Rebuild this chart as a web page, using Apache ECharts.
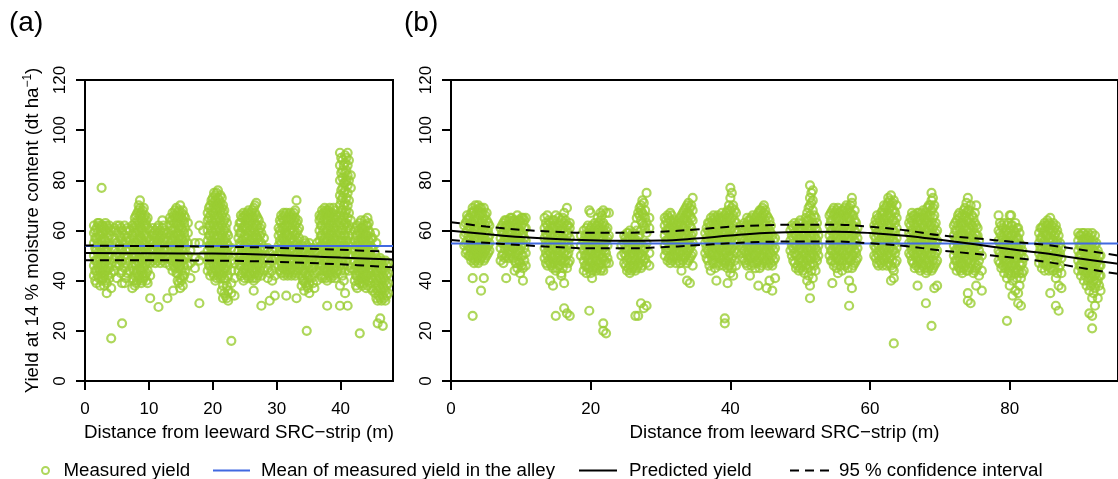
<!DOCTYPE html>
<html>
<head>
<meta charset="utf-8">
<script src="https://cdn.jsdelivr.net/npm/echarts@6.0.0/dist/echarts.min.js"></script>
<style>
  html, body { margin: 0; padding: 0; background: #fff; }
  #chart { width: 1118px; height: 479px; }
</style>
</head>
<body>
<div id="chart"></div>
<script>
// measured yield, one entry per distance: [distance (m), [yields at that distance]]
const measuredA = [
  [1.4, [42, 46, 50, 55, 59, 62]], [1.6, [40, 44, 48, 53, 57, 60]],
  [1.8, [39, 44, 48, 52, 57, 61]], [2.0, [42, 46, 51, 55, 59, 63]],
  [2.2, [41, 45, 49, 54, 58, 62, 63]], [2.4, [38, 44, 49, 53, 58, 61]],
  [2.6, [40, 43, 47, 51, 56, 60, 62, 77]], [2.8, [41, 45, 50, 54, 59, 62]],
  [3.0, [38, 42, 46, 50, 53, 57, 61]], [3.2, [40, 44, 48, 52, 56, 60, 63]],
  [3.4, [35, 39, 44, 48, 52, 55, 59, 62]], [3.6, [42, 46, 50, 53, 57, 61]],
  [3.8, [41, 45, 50, 54, 58, 62]],
  [4.1, [17, 37, 43, 47, 60]],
  [4.6, [44, 49, 53, 57, 61]], [4.8, [46, 50, 55, 60]],
  [5.0, [41, 47, 51, 55, 59, 62]],
  [5.4, [46, 50, 54, 58, 62]], [5.6, [43, 48, 53, 57, 61]],
  [5.8, [23, 39, 44, 48, 52, 56, 60]],
  [6.2, [39, 45, 50, 55, 58, 62]], [6.4, [41, 47, 52, 56, 60]],
  [6.6, [43, 49, 53, 57, 61]],
  [7.0, [44, 48, 52, 56, 60]],
  [7.4, [37, 41, 46, 50, 54, 58, 62]], [7.6, [40, 44, 49, 53, 57, 61]],
  [7.8, [38, 42, 47, 51, 55, 59, 63, 65]], [8.0, [39, 43, 46, 50, 55, 59, 62, 66]],
  [8.2, [40, 44, 48, 53, 57, 61, 64, 67]], [8.4, [42, 47, 51, 56, 60, 63, 68, 70]],
  [8.6, [41, 45, 49, 54, 58, 62, 66, 69, 72]], [8.8, [39, 44, 48, 52, 57, 61, 65, 67]],
  [9.0, [40, 43, 47, 51, 56, 60, 64, 68]], [9.2, [41, 45, 49, 53, 58, 62, 65, 69]],
  [9.4, [42, 46, 50, 55, 59, 63, 66]], [9.6, [40, 43, 47, 51, 54, 58, 62, 64]],
  [9.8, [39, 44, 48, 53, 57, 61, 65]],
  [10.2, [33, 42, 47, 52, 56, 60]],
  [10.6, [48, 52, 55, 58, 61]], [10.8, [49, 53, 56, 59]],
  [11.0, [47, 50, 54, 57, 60]], [11.3, [48, 51, 55, 58, 61]],
  [11.5, [29.5, 49, 53, 56, 59, 62]], [11.8, [47, 50, 54, 57, 60]],
  [12.1, [48, 51, 55, 58, 61, 64]], [12.3, [49, 52, 56, 59, 62]],
  [12.6, [47, 50, 53, 57, 60]],
  [12.9, [33, 49, 52, 56, 59]],
  [13.8, [36]],
  [13.3, [46, 50, 54, 58, 62, 65]], [13.5, [48, 52, 56, 60, 64]],
  [13.7, [44, 48, 52, 56, 60, 64, 67]], [13.9, [46, 50, 54, 58, 63, 66]],
  [14.1, [45, 49, 53, 57, 61, 65, 68]], [14.3, [43, 47, 51, 55, 59, 63, 66, 69]],
  [14.5, [40, 43, 47, 51, 55, 59, 63, 67]], [14.7, [39, 45, 49, 53, 57, 61, 65, 68]],
  [14.9, [37, 41, 46, 50, 54, 58, 62, 66, 70]], [15.1, [40, 44, 48, 53, 57, 61, 65, 67]],
  [15.3, [38, 42, 48, 52, 56, 60, 64, 68]], [15.5, [42, 46, 50, 55, 59, 63, 66]],
  [15.7, [44, 49, 53, 57, 61, 65]],
  [16.1, [46, 50, 55, 59, 63]],
  [16.5, [41, 47, 52]],
  [17.2, [45, 49, 55]],
  [17.9, [31, 48, 55, 62]],
  [18.5, [50, 60]],
  [19.2, [44, 48, 52, 56, 60, 64, 67]], [19.4, [46, 50, 54, 58, 62, 65, 69]],
  [19.6, [42, 46, 50, 54, 58, 62, 66, 70]], [19.8, [44, 48, 52, 56, 60, 64, 68, 72]],
  [20.0, [43, 47, 51, 55, 59, 63, 67, 71, 73]], [20.2, [42, 46, 50, 54, 58, 62, 66, 70, 75]],
  [20.4, [40, 45, 49, 53, 57, 61, 65, 69, 72, 74]], [20.6, [41, 44, 47, 51, 55, 60, 64, 68, 71, 75]],
  [20.8, [42, 46, 50, 54, 58, 62, 66, 70, 73, 76]], [21.0, [43, 45, 49, 53, 57, 61, 65, 69, 72]],
  [21.2, [41, 44, 48, 52, 56, 60, 64, 68, 71, 74]], [21.4, [36, 42, 46, 50, 54, 58, 62, 66, 69, 73]],
  [21.6, [33, 38, 43, 47, 51, 55, 59, 63, 67, 70]], [21.8, [35, 41, 45, 48, 52, 56, 60, 64, 68]],
  [22.0, [34, 40, 45, 49, 53, 57, 61, 65]], [22.2, [33, 38, 44, 47, 51, 55, 59, 63]],
  [22.4, [32, 36, 42, 46, 50, 54, 58]],
  [22.9, [16, 35, 39, 44, 48, 53]],
  [23.4, [34, 41, 47, 52]],
  [24.0, [44, 48, 52, 57, 61]], [24.2, [46, 50, 55, 59, 63]],
  [24.4, [42, 46, 50, 54, 59, 63, 66]], [24.6, [43, 48, 52, 56, 61, 65]],
  [24.8, [40, 44, 48, 53, 57, 61, 65, 67]], [25.0, [41, 45, 50, 54, 58, 62, 66]],
  [25.2, [43, 47, 51, 55, 60, 64, 66]], [25.4, [42, 46, 48, 52, 57, 61, 65, 67]],
  [25.6, [41, 45, 49, 53, 58, 62, 65, 68]], [25.8, [43, 47, 51, 56, 60, 64, 66]],
  [26.0, [42, 46, 50, 55, 59, 63, 67]], [26.2, [41, 45, 49, 53, 57, 61, 65, 68]],
  [26.4, [36, 40, 44, 48, 52, 57, 61, 65, 69]], [26.6, [43, 47, 51, 55, 59, 63, 67, 70]],
  [26.8, [41, 45, 49, 54, 58, 62, 66, 71]], [27.0, [42, 46, 50, 53, 57, 62, 65]],
  [27.2, [43, 47, 51, 56, 60, 64]], [27.4, [44, 48, 53, 58, 61]],
  [27.6, [30, 42, 46, 50, 55, 59, 62]],
  [28.0, [44, 48, 53, 57]],
  [28.6, [41, 45, 49, 53]],
  [28.9, [32, 43, 47, 51]],
  [29.3, [40, 44, 48, 52]],
  [29.7, [34, 42, 46, 50]],
  [30.3, [46, 50, 54, 58, 61]], [30.5, [44, 48, 52, 56, 60, 64]],
  [30.7, [43, 47, 51, 55, 59, 63, 66]], [30.9, [45, 49, 53, 57, 61, 65]],
  [31.1, [42, 45, 49, 53, 57, 61, 64, 67]], [31.3, [43, 47, 51, 55, 59, 62, 66]],
  [31.5, [34, 44, 48, 52, 56, 60, 64, 67]], [31.7, [42, 46, 50, 54, 58, 62, 65]],
  [31.9, [43, 46, 50, 54, 58, 62, 66]], [32.1, [44, 48, 52, 56, 60, 64, 67]],
  [32.3, [42, 45, 49, 53, 57, 61, 65]], [32.5, [43, 47, 51, 55, 59, 63, 66]],
  [32.7, [44, 48, 52, 56, 60, 64, 67]], [32.9, [42, 46, 50, 54, 58, 62, 65, 68]],
  [33.1, [33, 43, 47, 51, 55, 59, 63, 72]], [33.3, [44, 48, 52, 56, 60, 64]],
  [33.5, [45, 49, 53, 57, 61]],
  [33.9, [38, 42, 46, 50, 54]], [34.1, [40, 44, 48, 52]],
  [34.3, [36, 40, 44, 48, 52, 56]], [34.5, [39, 43, 47, 51, 55]],
  [34.7, [20, 38, 42, 46, 50, 54]], [34.9, [37, 41, 45, 49, 53]],
  [35.1, [35, 39, 43, 47, 51, 55]],
  [35.5, [41, 45, 49, 53]], [35.7, [39, 45, 49, 53]],
  [35.9, [37, 43, 47, 51]],
  [36.3, [40, 44, 48, 52, 55]],
  [36.7, [44, 48, 52, 56, 60, 64, 66]], [36.9, [42, 46, 50, 54, 58, 62, 65]],
  [37.1, [41, 46, 50, 54, 58, 62, 66, 68]], [37.3, [44, 48, 52, 56, 60, 64, 67]],
  [37.5, [42, 45, 49, 53, 57, 61, 65, 69]], [37.7, [41, 47, 51, 55, 59, 63, 67, 68]],
  [37.9, [30, 40, 44, 48, 52, 56, 60, 64, 67]], [38.1, [43, 45, 49, 53, 57, 61, 65, 68]],
  [38.3, [42, 46, 50, 54, 58, 62, 66, 69]], [38.5, [41, 44, 48, 52, 56, 60, 64, 67]],
  [38.7, [43, 47, 51, 55, 59, 63, 67]], [38.9, [42, 45, 49, 53, 57, 61, 65, 69]],
  [39.1, [41, 45, 49, 53, 57, 61, 65, 68]], [39.3, [43, 47, 51, 55, 59, 63, 66]],
  [39.5, [44, 48, 52, 56, 60, 64]],
  [39.9, [30, 38, 46, 50, 54, 58, 62, 66, 70, 74, 80, 86, 91]],
  [40.1, [44, 48, 52, 56, 60, 64, 68, 72, 76, 83, 89]],
  [40.3, [42, 48, 52, 56, 60, 64, 68, 73, 77, 81, 84, 88]],
  [40.5, [40, 46, 50, 54, 58, 62, 66, 70, 75, 79, 86]],
  [40.7, [35, 44, 50, 54, 58, 63, 67, 71, 76, 79, 83, 87, 90]],
  [40.9, [48, 52, 56, 60, 63, 68, 73, 80, 84, 89]],
  [41.1, [30, 46, 52, 56, 61, 65, 70, 75, 78, 82, 86, 91]],
  [41.3, [44, 50, 54, 58, 62, 67, 72, 80, 88]],
  [41.6, [45, 50, 55, 60, 64, 77, 82]],
  [42.2, [40, 44, 48, 52, 56, 60]], [42.4, [38, 42, 46, 50, 54, 58, 61]],
  [42.6, [37, 42, 46, 50, 54, 58, 62]], [42.8, [40, 44, 48, 52, 56, 60]],
  [43.0, [19, 39, 43, 47, 51, 55, 59, 63]], [43.2, [41, 45, 49, 53, 57, 61, 64]],
  [43.4, [38, 41, 45, 49, 53, 57, 61]], [43.6, [39, 43, 47, 51, 55, 59, 62]],
  [43.8, [40, 44, 48, 52, 56, 60, 64]], [44.0, [37, 42, 46, 50, 54, 58, 62]],
  [44.2, [38, 42, 46, 50, 54, 58, 62, 65]], [44.4, [40, 44, 48, 52, 56, 60, 63]],
  [44.6, [39, 43, 47, 51, 55, 59]], [44.8, [37, 41, 45, 49, 53, 57]],
  [45.0, [36, 41, 45, 49, 53, 57]],
  [45.4, [35, 39, 43, 47, 51, 59]], [45.6, [33, 37, 41, 45, 49, 55]],
  [45.8, [23, 32, 36, 40, 44, 48]], [46.0, [34, 38, 42, 46]],
  [46.2, [25, 33, 37, 41, 45, 49]], [46.4, [32, 36, 40, 44, 48]],
  [46.6, [22, 34, 38, 42, 46]], [46.8, [33, 37, 41, 45]],
  [47.0, [32, 36, 40, 44, 48]], [47.2, [34, 38, 42, 46]],
  [47.4, [35, 39, 43, 47]]
];

const measuredB = [
  [1.9, [54, 58, 62]], [2.1, [51, 55, 59, 63]],
  [2.3, [52, 56, 60, 64, 66]], [2.5, [50, 54, 58, 62, 65]],
  [2.7, [50, 53, 57, 61, 65]], [2.9, [48, 51, 55, 59, 63, 67]],
  [3.1, [26, 41, 49, 52, 55, 59, 63, 67, 69]], [3.3, [47, 50, 53, 57, 61, 64, 68]],
  [3.5, [48, 51, 54, 58, 62, 66, 70]], [3.7, [49, 52, 56, 60, 64, 68]],
  [3.9, [47, 50, 53, 56, 60, 64, 68, 70]], [4.1, [48, 51, 54, 58, 62, 66, 69]],
  [4.3, [36, 49, 52, 55, 59, 63, 67, 69]], [4.5, [50, 53, 56, 60, 64, 67]],
  [4.7, [41, 48, 51, 54, 57, 61, 65, 69]], [4.9, [49, 52, 55, 59, 62, 66]],
  [5.1, [50, 53, 56, 60, 64, 67]], [5.3, [51, 54, 57, 60, 63]],
  [5.5, [52, 55, 58, 62]],
  [7.1, [48, 53, 57, 61]], [7.3, [50, 55, 59, 62]],
  [7.5, [47, 51, 55, 59, 63]], [7.7, [49, 53, 57, 61, 64]],
  [7.9, [41, 50, 54, 58, 62, 64]], [8.1, [51, 55, 59, 62]],
  [8.3, [49, 52, 56, 60, 64]], [8.5, [50, 54, 58, 62, 65]],
  [8.7, [51, 55, 59, 63, 65]], [8.9, [49, 53, 57, 61, 64]],
  [9.1, [44, 48, 53, 57, 61, 64]], [9.3, [47, 51, 55, 59, 63]],
  [9.5, [45, 50, 54, 58, 62, 66]], [9.7, [48, 52, 56, 60, 64]],
  [9.9, [43, 47, 52, 56, 60, 64]], [10.1, [46, 50, 54, 58, 62, 65]],
  [10.3, [40, 45, 50, 55, 59, 63, 65]], [10.5, [48, 53, 57, 61, 64]],
  [10.7, [46, 51, 56, 61, 65]],
  [13.4, [49, 53, 57, 61, 65]], [13.6, [47, 51, 55, 59, 63]],
  [13.8, [46, 50, 54, 58, 62, 66]], [14.0, [48, 52, 56, 60, 64]],
  [14.2, [40, 47, 51, 55, 59, 63]], [14.4, [46, 50, 54, 58, 62]],
  [14.6, [38, 45, 49, 53, 57, 61, 64]], [14.8, [47, 50, 54, 58, 62, 64]],
  [15.0, [26, 44, 48, 52, 56, 60, 66]], [15.2, [45, 49, 53, 57, 61]],
  [15.4, [46, 50, 54, 58, 62, 65]], [15.6, [48, 52, 56, 60, 63]],
  [15.8, [42, 43, 48, 52, 56, 60, 64]], [16.0, [45, 49, 53, 57, 61, 65]],
  [16.2, [29, 39, 47, 51, 55, 59, 63, 67]], [16.4, [48, 52, 56, 60, 64]],
  [16.6, [27, 45, 50, 54, 58, 62, 69]], [16.8, [47, 51, 55, 59, 62]],
  [17.0, [26, 48, 53, 57, 61, 63]],
  [18.6, [50, 54, 58]],
  [19.0, [44, 48, 52, 56, 60]], [19.2, [46, 50, 54, 58]],
  [19.4, [43, 46, 50, 54, 58, 61]], [19.6, [45, 48, 52, 56, 59, 62]],
  [19.8, [28, 45, 49, 53, 57, 60, 68]], [20.0, [43, 47, 51, 55, 58, 61, 67]],
  [20.2, [41, 44, 48, 52, 56, 59, 62]], [20.4, [45, 49, 53, 56, 60]],
  [20.6, [46, 50, 54, 57, 61, 63]], [20.8, [44, 48, 51, 55, 58, 62]],
  [21.0, [45, 48, 52, 55, 59, 62, 65]], [21.2, [46, 50, 53, 57, 60, 63]],
  [21.4, [44, 47, 51, 54, 58, 61, 64, 67]], [21.6, [45, 49, 52, 56, 59, 62, 66]],
  [21.8, [20, 23, 44, 49, 53, 57, 60, 63, 68]], [22.0, [48, 52, 55, 59, 62]],
  [22.2, [19, 47, 51, 56, 60, 67]], [22.4, [49, 54, 57, 61]],
  [22.6, [47, 58, 67]],
  [24.4, [50, 54]],
  [24.8, [47, 51, 55, 58]], [25.0, [46, 50, 53, 57]],
  [25.2, [44, 48, 52, 56, 59]], [25.4, [45, 49, 53, 56, 59]],
  [25.6, [43, 46, 50, 54, 57, 60]], [25.8, [44, 48, 51, 55, 58]],
  [26.0, [45, 49, 53, 56, 59]], [26.2, [46, 50, 54, 57]],
  [26.4, [26, 44, 48, 52, 55, 62]], [26.6, [45, 49, 53, 56, 60, 65]],
  [26.8, [26, 46, 50, 54, 58, 67]], [27.0, [47, 51, 55, 58, 66, 69]],
  [27.2, [31, 45, 49, 53, 60, 64, 68, 70]], [27.4, [46, 50, 54, 63, 67, 72]],
  [27.6, [29, 48, 52, 62, 66, 71]], [27.8, [49, 53, 61, 65, 68]],
  [28.0, [30, 47, 55, 59, 63, 75]],
  [28.4, [46, 51, 61, 65]],
  [30.6, [50, 54, 58, 62, 65]], [30.8, [52, 56, 60, 64]],
  [31.0, [48, 52, 56, 60, 63, 66]], [31.2, [49, 53, 57, 61, 65]],
  [31.4, [47, 50, 54, 58, 61, 64, 67]], [31.6, [48, 52, 56, 59, 62, 66]],
  [31.8, [49, 53, 57, 60, 63]], [32.0, [50, 54, 58, 61, 64]],
  [32.2, [47, 51, 55, 59, 62]], [32.4, [49, 53, 57, 60, 63]],
  [32.6, [48, 52, 56, 60, 64]], [32.8, [47, 51, 55, 59, 63, 65]],
  [33.0, [44, 50, 54, 58, 62, 66]], [33.2, [48, 52, 56, 60, 64, 67]],
  [33.4, [49, 53, 57, 61, 65, 68]], [33.6, [50, 54, 58, 62, 66, 69]],
  [33.8, [40, 47, 51, 55, 60, 64, 67, 70]], [34.0, [48, 52, 56, 59, 63, 67, 71]],
  [34.2, [39, 49, 53, 57, 62, 66, 69]], [34.4, [50, 54, 58, 61, 65, 70]],
  [34.6, [46, 51, 55, 59, 64, 68, 73]],
  [36.4, [51, 55, 59]], [36.6, [49, 53, 57, 61]],
  [36.8, [48, 52, 56, 60, 63]], [37.0, [46, 51, 55, 59, 63]],
  [37.2, [44, 50, 54, 58, 62, 65]], [37.4, [48, 52, 56, 60, 64]],
  [37.6, [47, 51, 55, 59, 63, 66]], [37.8, [45, 50, 54, 58, 62, 65]],
  [38.0, [40, 49, 53, 57, 61, 64]], [38.2, [47, 51, 55, 59, 63, 66]],
  [38.4, [46, 50, 54, 58, 62, 65]], [38.6, [49, 53, 57, 61, 65]],
  [38.8, [48, 52, 56, 60, 64, 67]], [39.0, [46, 50, 54, 58, 62, 65]],
  [39.2, [23, 25, 47, 51, 55, 59, 63, 66]], [39.4, [48, 52, 56, 60, 64, 67]],
  [39.6, [39, 45, 49, 53, 57, 61, 65, 68]], [39.8, [46, 50, 54, 58, 62, 66, 70]],
  [40.0, [43, 47, 52, 56, 60, 64, 68, 73, 77]], [40.2, [45, 49, 53, 57, 61, 65, 69, 75]],
  [40.4, [42, 50, 54, 58, 62, 66, 70]], [40.6, [48, 52, 56, 60, 64, 68]],
  [40.8, [46, 51, 55, 59, 63, 67]],
  [41.6, [51, 55, 59, 62]], [41.8, [49, 53, 57, 61]],
  [42.0, [48, 52, 56, 60, 63]], [42.2, [47, 51, 55, 59, 62]],
  [42.4, [46, 50, 54, 58, 62, 65]], [42.6, [48, 52, 56, 60, 64]],
  [42.8, [42, 49, 53, 57, 61, 64]], [43.0, [46, 50, 54, 58, 62, 65]],
  [43.2, [47, 51, 55, 59, 63, 66]], [43.4, [49, 53, 57, 61, 64]],
  [43.6, [45, 50, 54, 58, 62, 65]], [43.8, [47, 51, 55, 59, 63, 66]],
  [44.0, [38, 48, 52, 56, 60, 64, 67]], [44.2, [45, 49, 53, 57, 61, 64, 68]],
  [44.4, [46, 50, 54, 58, 61, 65, 68]], [44.6, [47, 51, 55, 59, 62, 66, 69]],
  [44.8, [49, 53, 57, 60, 63, 67, 70]], [45.0, [48, 52, 56, 60, 64, 68]],
  [45.2, [37, 47, 51, 55, 59, 62, 66]], [45.4, [46, 50, 54, 58, 61, 65]],
  [45.6, [40, 48, 52, 56, 60, 64]], [45.8, [47, 51, 55, 59, 62]],
  [46.0, [36, 46, 50, 54, 58]], [46.2, [48, 52, 56]],
  [46.4, [41, 49, 53, 57]],
  [48.6, [52, 56, 60]], [48.8, [50, 54, 58, 62]],
  [49.0, [48, 53, 57, 61]], [49.2, [47, 51, 55, 59, 63]],
  [49.4, [45, 50, 54, 58, 62]], [49.6, [46, 50, 54, 57, 61]],
  [49.8, [44, 48, 52, 56, 60, 63]], [50.0, [45, 49, 53, 57, 61, 64]],
  [50.2, [46, 50, 54, 58, 61]], [50.4, [44, 48, 52, 56, 60, 63]],
  [50.6, [43, 47, 51, 55, 59, 62]], [50.8, [46, 50, 54, 58, 62, 65]],
  [51.0, [40, 45, 49, 53, 57, 61, 64, 67]], [51.2, [42, 48, 52, 56, 60, 64, 69]],
  [51.4, [33, 38, 46, 50, 54, 58, 62, 66, 70, 73, 78]], [51.6, [44, 49, 53, 57, 61, 65, 71, 75]],
  [51.8, [41, 47, 51, 55, 59, 63, 68, 72, 76]], [52.0, [46, 50, 54, 58, 62, 66]],
  [52.2, [44, 49, 53, 57, 61, 65]], [52.4, [48, 52, 56, 60, 63]],
  [52.6, [50, 54, 58]],
  [54.2, [50, 54, 58, 62, 66]], [54.4, [48, 52, 56, 60, 64, 67]],
  [54.6, [39, 48, 52, 56, 60, 64, 68]], [54.8, [46, 50, 54, 58, 62, 66, 69]],
  [55.0, [47, 51, 55, 59, 63, 67]], [55.2, [45, 49, 53, 57, 61, 65, 68]],
  [55.4, [43, 49, 53, 57, 61, 65, 69]], [55.6, [48, 52, 56, 60, 64, 67]],
  [55.8, [46, 50, 54, 58, 62, 66]], [56.0, [44, 48, 52, 56, 60, 64, 68]],
  [56.2, [48, 52, 56, 60, 64, 68]], [56.4, [46, 50, 54, 58, 62, 66, 69]],
  [56.6, [47, 51, 55, 59, 63, 67, 70]], [56.8, [45, 49, 53, 57, 61, 65, 68]],
  [57.0, [30, 40, 49, 53, 57, 61, 65, 69]], [57.2, [48, 52, 56, 60, 64, 67, 70]],
  [57.4, [37, 45, 50, 54, 58, 62, 66, 71, 73]], [57.6, [46, 50, 54, 58, 62, 66]],
  [57.8, [47, 52, 56, 60, 64, 68]], [58.0, [48, 51, 55, 59, 63]],
  [58.2, [49, 53, 57, 61]],
  [60.6, [50, 54, 58, 62]], [60.8, [49, 53, 57, 61, 64]],
  [61.0, [47, 51, 55, 59, 63, 66]], [61.2, [46, 50, 54, 58, 62, 65]],
  [61.4, [48, 52, 56, 60, 64]], [61.6, [47, 51, 55, 59, 63, 67]],
  [61.8, [46, 50, 54, 58, 62, 66, 68]], [62.0, [48, 52, 56, 60, 64, 67, 70]],
  [62.2, [49, 53, 57, 61, 65, 69]], [62.4, [46, 50, 54, 58, 62, 66, 70]],
  [62.6, [47, 51, 55, 59, 63, 67, 71, 73]], [62.8, [49, 53, 57, 61, 65, 69, 72]],
  [63.0, [40, 46, 50, 54, 58, 62, 66, 70, 74]], [63.2, [45, 48, 52, 56, 60, 64, 68, 71]],
  [63.4, [15, 41, 44, 52, 56, 60, 64, 68, 72]], [63.6, [47, 51, 55, 59, 63, 67]],
  [63.8, [48, 53, 57, 61, 65, 70]],
  [65.6, [51, 55, 59, 63]], [65.8, [50, 54, 58, 62, 65]],
  [66.0, [48, 52, 56, 60, 64, 67]], [66.2, [47, 51, 55, 59, 63, 66]],
  [66.4, [45, 50, 54, 58, 62, 66]], [66.6, [46, 49, 53, 57, 61, 65]],
  [66.8, [38, 47, 51, 55, 59, 63, 67]], [67.0, [45, 48, 52, 56, 60, 64, 67]],
  [67.2, [44, 49, 53, 57, 61, 65]], [67.4, [47, 51, 55, 59, 63, 67]],
  [67.6, [46, 50, 54, 58, 62, 66, 68]], [67.8, [45, 49, 53, 57, 61, 65]],
  [68.0, [31, 43, 48, 52, 56, 60, 64, 67]], [68.2, [44, 47, 51, 55, 59, 63, 66, 69]],
  [68.4, [45, 49, 53, 57, 61, 65, 70]], [68.6, [46, 50, 54, 58, 62, 66, 70]],
  [68.8, [22, 44, 51, 55, 59, 63, 68, 72, 75]], [69.0, [45, 48, 53, 57, 61, 65, 69, 73]],
  [69.2, [37, 46, 50, 54, 58, 62, 66, 70]], [69.4, [47, 51, 55, 59, 63]],
  [69.6, [38, 48, 52, 56, 60]],
  [72.0, [46, 50, 54, 58, 62]], [72.2, [48, 52, 56, 60, 63]],
  [72.4, [44, 48, 52, 56, 60, 64]], [72.6, [46, 50, 54, 58, 62, 66]],
  [72.8, [45, 49, 53, 57, 61, 65, 67]], [73.0, [44, 47, 51, 55, 59, 63]],
  [73.2, [43, 47, 51, 55, 59, 63, 66]], [73.4, [45, 49, 53, 57, 61, 65, 68]],
  [73.6, [46, 50, 54, 58, 62, 66, 69]], [73.8, [44, 48, 52, 56, 60, 64, 67, 71]],
  [74.0, [32, 35, 44, 48, 52, 56, 60, 64, 68, 73]], [74.2, [45, 49, 53, 57, 61, 65, 68]],
  [74.4, [31, 47, 51, 55, 59, 63, 70]], [74.6, [45, 50, 54, 58, 62, 66]],
  [74.8, [43, 49, 53, 57, 61, 65]], [75.0, [44, 47, 51, 55, 59, 63, 67]],
  [75.2, [38, 45, 50, 54, 58, 62, 70]], [75.4, [46, 50, 54, 58, 61]],
  [75.6, [42, 48, 52, 56]],
  [76.0, [36, 44, 50]],
  [78.4, [48, 52, 56, 60, 66]], [78.6, [47, 51, 55, 59, 63]],
  [78.8, [45, 50, 54, 58, 62]], [79.0, [46, 49, 53, 57, 61]],
  [79.2, [43, 47, 51, 55, 59, 63]], [79.4, [45, 48, 52, 56, 60]],
  [79.6, [24, 41, 46, 50, 54, 58, 62]], [79.8, [43, 47, 51, 55, 59, 63]],
  [80.0, [38, 44, 48, 52, 56, 60, 66]], [80.2, [42, 46, 50, 54, 58, 62, 66]],
  [80.4, [34, 40, 46, 50, 54, 58, 62]], [80.6, [44, 48, 52, 56, 60]],
  [80.8, [36, 43, 47, 51, 55, 59, 63]], [81.0, [41, 45, 49, 53, 57, 61]],
  [81.2, [31, 35, 44, 49, 53, 57, 61]], [81.4, [38, 43, 47, 51, 55, 59]],
  [81.6, [30, 41, 46, 50, 54]], [81.8, [43, 47, 52]],
  [82.0, [44, 49]],
  [84.2, [47, 51, 55, 59]], [84.4, [49, 53, 57, 61]],
  [84.6, [45, 49, 53, 57, 61]], [84.8, [47, 51, 55, 59, 62]],
  [85.0, [44, 48, 52, 56, 60, 63]], [85.2, [46, 50, 54, 58, 62]],
  [85.4, [46, 50, 54, 58, 62, 64]], [85.6, [44, 48, 52, 56, 60, 63]],
  [85.8, [35, 45, 49, 53, 57, 61, 65]], [86.0, [47, 51, 55, 59, 62]],
  [86.2, [44, 48, 52, 56, 60, 63]], [86.4, [45, 50, 54, 58, 61]],
  [86.6, [30, 41, 47, 51, 55, 59, 62]], [86.8, [43, 48, 52, 56, 60]],
  [87.0, [28, 38, 45, 50, 54, 58]], [87.2, [46, 51, 55]],
  [87.4, [37, 43, 49, 53]],
  [89.8, [44, 48, 52, 56, 59]], [90.0, [46, 50, 54, 58]],
  [90.2, [42, 46, 50, 54, 58]], [90.4, [44, 48, 52, 56, 59]],
  [90.6, [40, 44, 48, 52, 56, 59]], [90.8, [42, 46, 50, 54, 57]],
  [91.0, [38, 43, 47, 51, 55, 58]], [91.2, [40, 44, 48, 52, 56, 59]],
  [91.4, [27, 36, 41, 45, 49, 53, 57]], [91.6, [38, 42, 46, 50, 54, 58]],
  [91.8, [21, 26, 33, 39, 43, 47, 51, 55, 59]], [92.0, [35, 40, 44, 48, 52, 56]],
  [92.2, [30, 37, 42, 46, 50, 54, 58]], [92.4, [39, 43, 47, 51, 55]],
  [92.6, [33, 40, 44, 48, 52]], [92.8, [38, 42, 46, 50]],
  [93.0, [36, 42, 46, 50]]
];

// mean of measured yield in the alley, panel a / panel b
const meanYield = [53.8, 54.8];

// fitted model: [distance, yield]
const predictedA = [[0, 51.0], [10, 50.9], [20, 50.8], [25, 50.6], [30, 50.2], [35, 49.7], [40, 49.2], [48.2, 48.4]];
const upperA = [[0, 54.0], [10, 53.8], [20, 53.6], [30, 53.1], [40, 52.3], [48.2, 51.5]];
const lowerA = [[0, 48.1], [10, 48.1], [20, 48.0], [30, 47.5], [40, 46.5], [48.2, 45.3]];

const predictedB = [[0, 59.9], [5, 58.6], [10, 57.4], [15, 56.6], [20, 56.1], [25, 55.9], [30, 56.0], [35, 56.8],
  [40, 58.0], [45, 59.0], [50, 59.4], [55, 59.5], [60, 59.0], [65, 57.9], [70, 56.3], [75, 54.5], [80, 52.6],
  [85, 50.9], [90, 48.8], [95.5, 46.7]];
const upperB = [[0, 63.3], [5, 61.6], [10, 60.3], [15, 59.5], [20, 59.1], [25, 59.1], [30, 59.5], [35, 60.4],
  [40, 61.5], [45, 62.1], [50, 62.3], [55, 62.3], [60, 61.5], [65, 60.1], [70, 58.1], [75, 56.9], [80, 55.6],
  [85, 54.3], [90, 52.4], [95.5, 50.0]];
const lowerB = [[0, 56.2], [5, 55.1], [10, 54.2], [15, 53.4], [20, 52.9], [25, 52.9], [30, 53.3], [35, 54.1],
  [40, 54.9], [45, 55.5], [50, 55.6], [55, 55.6], [60, 54.9], [65, 53.8], [70, 52.1], [75, 50.7], [80, 49.3],
  [85, 47.6], [90, 45.2], [95.5, 42.7]];

const xMax = [48.2, 95.5];
const xTicks = [[0, 10, 20, 30, 40], [0, 20, 40, 60, 80]];
const yTicks = [0, 20, 40, 60, 80, 100, 120];

const green = '#9acd32';
const blue = '#4169e1';
const font = 'Liberation Sans, Arial, sans-serif';

const flatten = cols => cols.flatMap(([x, ys]) => ys.map(y => [x, y]));

const chart = echarts.init(document.getElementById('chart'));

const xAxisFor = i => ({
  type: 'value',
  gridIndex: i,
  min: 0,
  max: xMax[i],
  name: 'Distance from leeward SRC\u2212strip (m)',
  nameLocation: 'middle',
  nameGap: 40,
  nameTextStyle: { fontSize: 18.7, color: '#000', fontFamily: font },
  axisLine: { show: false },
  axisTick: {
    show: true, length: 9, customValues: xTicks[i],
    lineStyle: { color: '#000', width: 2 }
  },
  axisLabel: {
    customValues: xTicks[i], margin: 20,
    fontSize: 17, color: '#000', fontFamily: font
  },
  splitLine: { show: false }
});

const yAxisFor = i => ({
  type: 'value',
  gridIndex: i,
  min: 0,
  max: 120,
  interval: 20,
  name: i === 0 ? 'Yield at 14 % moisture content (dt ha{sup|\u22121})' : '',
  nameLocation: 'middle',
  nameRotate: 90,
  nameGap: 42,
  nameTextStyle: {
    fontSize: 18.7, color: '#000', fontFamily: font,
    rich: { sup: { fontSize: 12, color: '#000', fontFamily: font, padding: [0, 0, 9, 0] } }
  },
  axisLine: { show: false },
  axisTick: { show: true, length: 9, lineStyle: { color: '#000', width: 2 } },
  axisLabel: {
    rotate: 90, margin: 16,
    fontSize: 17, color: '#000', fontFamily: font,
    customValues: yTicks
  },
  splitLine: { show: false }
});

const panelSeries = (i, measured, predicted, upper, lower) => [
  {
    name: 'Measured yield',
    type: 'scatter',
    xAxisIndex: i, yAxisIndex: i,
    symbol: 'circle',
    symbolSize: 8,
    itemStyle: { color: 'rgba(0,0,0,0)', borderColor: green, borderWidth: 2.2 },
    emphasis: { disabled: true },
    data: flatten(measured)
  },
  {
    name: 'Mean of measured yield in the alley',
    type: 'line',
    xAxisIndex: i, yAxisIndex: i,
    symbol: 'none',
    lineStyle: { color: blue, width: 2 },
    itemStyle: { color: blue },
    data: [[0, meanYield[i]], [xMax[i], meanYield[i]]]
  },
  {
    name: 'Predicted yield',
    type: 'line',
    xAxisIndex: i, yAxisIndex: i,
    symbol: 'none',
    smooth: 0.4,
    lineStyle: { color: '#000', width: 2 },
    itemStyle: { color: '#000' },
    data: predicted
  },
  ...[upper, lower].map(d => ({
    name: '95 % confidence interval',
    type: 'line',
    xAxisIndex: i, yAxisIndex: i,
    symbol: 'none',
    smooth: 0.4,
    lineStyle: { color: '#000', width: 2, type: [9, 6] },
    itemStyle: { color: '#000' },
    data: d
  }))
];

const legendFor = (name, left, itemWidth, gap, extra) => Object.assign({
  data: [name],
  left: left,
  top: 456,
  itemWidth: itemWidth,
  itemHeight: 8,
  selectedMode: false,
  itemStyle: { opacity: 0 },
  textStyle: { fontSize: 18.7, color: '#000', fontFamily: font, padding: [0, 0, 0, gap] }
}, extra);

chart.setOption({
  animation: false,
  backgroundColor: '#fff',
  grid: [
    { left: 85, top: 80, width: 308, height: 301, show: true, borderColor: '#000', borderWidth: 2 },
    { left: 451, top: 80, width: 670, height: 301, show: true, borderColor: '#000', borderWidth: 2 }
  ],
  xAxis: [xAxisFor(0), xAxisFor(1)],
  yAxis: [yAxisFor(0), yAxisFor(1)],
  legend: [
    legendFor('Measured yield', 36, 14, 6, {
      icon: 'circle', itemHeight: 7,
      itemStyle: { color: 'rgba(0,0,0,0)', borderColor: green, borderWidth: 2 }
    }),
    legendFor('Mean of measured yield in the alley', 207, 37, 6, {}),
    legendFor('Predicted yield', 573, 38, 7, {}),
    legendFor('95 % confidence interval', 784, 40, 4, {})
  ],
  graphic: [
    { type: 'text', left: 9, top: 9, style: { text: '(a)', fontSize: 28, fill: '#000', fontFamily: font } },
    { type: 'text', left: 404, top: 9, style: { text: '(b)', fontSize: 28, fill: '#000', fontFamily: font } }
  ],
  series: [
    ...panelSeries(0, measuredA, predictedA, upperA, lowerA),
    ...panelSeries(1, measuredB, predictedB, upperB, lowerB)
  ]
});
</script>
</body>
</html>
